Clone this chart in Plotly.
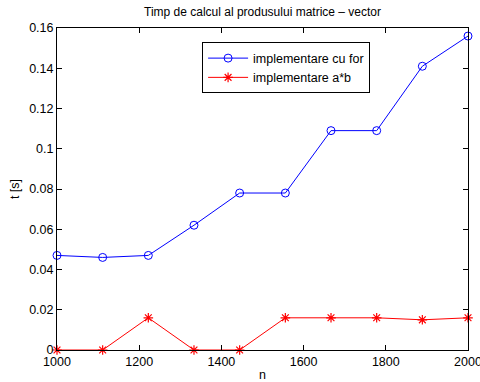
import plotly.graph_objects as go

n_values = [1000, 1111.1, 1222.2, 1333.3, 1444.4, 1555.6, 1666.7, 1777.8, 1888.9, 2000]
t_for = [0.047, 0.046, 0.047, 0.062, 0.078, 0.078, 0.109, 0.109, 0.141, 0.156]
t_ab = [0.0, 0.0, 0.016, 0.0, 0.0, 0.016, 0.016, 0.016, 0.015, 0.016]
x_ticks = [1000, 1200, 1400, 1600, 1800, 2000]
y_ticks = [0, 0.02, 0.04, 0.06, 0.08, 0.1, 0.12, 0.14, 0.16]
y_tick_text = ["0", "0.02", "0.04", "0.06", "0.08", "0.1", "0.12", "0.14", "0.16"]

fig = go.Figure()
fig.add_trace(go.Scatter(
    x=n_values, y=t_for, mode="lines+markers", name="implementare cu for",
    line=dict(color="#0000ff", width=1),
    marker=dict(symbol="circle-open", size=8, color="#0000ff", line=dict(width=1, color="#0000ff")),
    cliponaxis=False,
))
fig.add_trace(go.Scatter(
    x=n_values, y=t_ab, mode="lines+markers", name="implementare a*b",
    line=dict(color="#ff0000", width=1),
    marker=dict(symbol="asterisk-open", size=8, color="#ff0000", line=dict(width=1.2, color="#ff0000")),
    cliponaxis=False,
))

font = "Liberation Sans, Arial, Helvetica, sans-serif"
fig.update_layout(
    width=480, height=382,
    margin=dict(l=57, r=12, t=28, b=32, autoexpand=False),
    paper_bgcolor="white", plot_bgcolor="white",
    font=dict(family=font, size=12, color="black"),
    title=dict(text="Timp de calcul al produsului matrice \u2013 vector", x=(57 + 468) / 2 / 480,
               xanchor="center", y=1 - 12 / 382, yanchor="middle", font=dict(size=12), automargin=False),
    showlegend=True,
    legend=dict(x=0.353, y=0.955, xanchor="left", yanchor="top",
                bordercolor="black", borderwidth=1, bgcolor="white",
                font=dict(size=12.5), tracegroupgap=0, itemwidth=40),
)
fig.update_xaxes(
    range=[1000, 2000], tickvals=x_ticks, ticks="inside", ticklen=5, tickcolor="black",
    showline=True, linecolor="black", linewidth=1, mirror="ticks", showgrid=False, zeroline=False,
    title=dict(text="n", standoff=3, font=dict(size=12.5)), tickfont=dict(size=12.5), automargin=False,
    ticklabeloverflow="allow",
)
fig.update_yaxes(
    range=[0, 0.16], tickvals=y_ticks, ticktext=y_tick_text, ticks="inside", ticklen=5, tickcolor="black",
    showline=True, linecolor="black", linewidth=1, mirror="ticks", showgrid=False, zeroline=False,
    title=dict(text="t [s]", standoff=6, font=dict(size=12.5)), tickfont=dict(size=12.5), automargin=False,
    ticklabeloverflow="allow",
)
fig.write_html("out.html")
